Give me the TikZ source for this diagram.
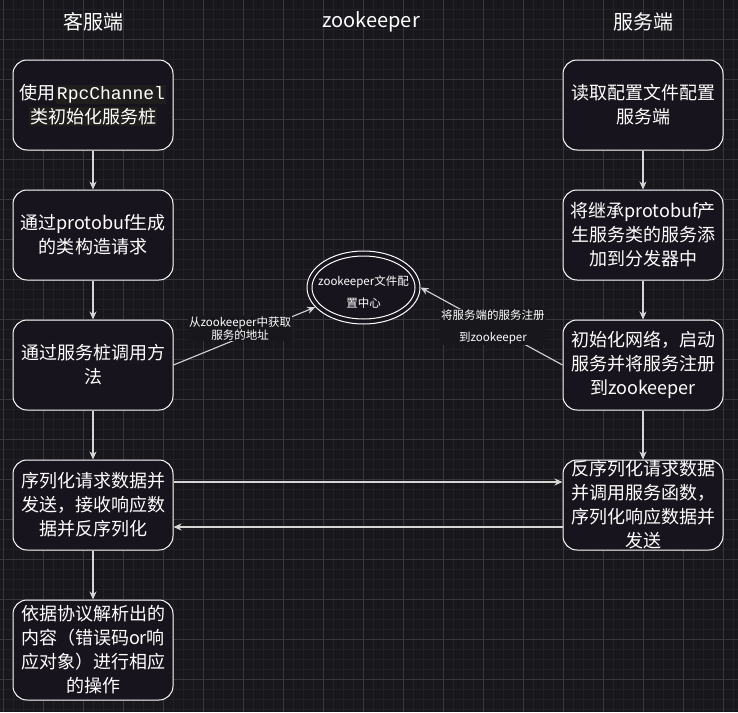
\documentclass[tikz,border=0pt]{standalone}
\usepackage{fontspec}
\setmainfont{Noto Sans CJK SC}
\newfontfamily\codefont{Liberation Mono}
\usetikzlibrary{arrows.meta,shapes.geometric}

\definecolor{canvas}{HTML}{18171C}
\definecolor{gridminor}{HTML}{222128}
\definecolor{gridmajor}{HTML}{38373D}
\definecolor{boxfill}{HTML}{18141D}
\definecolor{codebg}{HTML}{1F1E1C}
\definecolor{edge}{HTML}{D6D6D6}

\tikzset{
  stepbox/.style={draw=white, line width=1pt, fill=boxfill, rounded corners=14pt,
    minimum width=160pt, minimum height=90pt, inner sep=0pt, align=center,
    text=white, font=\fontsize{18}{24}\selectfont},
  flow/.style={draw=edge, line width=1.1pt, -{Stealth[length=8pt,width=7pt,inset=2.5pt]}},
  head/.style={text=white, font=\fontsize{20}{24}\selectfont},
  edgelabel/.style={fill=canvas, text=white, inner sep=1pt, align=center},
  ring/.style={ellipse, draw=white, line width=1pt, inner sep=0pt},
}

\newcommand{\codebit}[1]{{\fboxsep=1pt\colorbox{codebg}{#1}}}

\begin{document}
\begin{tikzpicture}[x=1pt,y=-1pt]
  \useasboundingbox (0,0) rectangle (738,712);

  % background and grid
  \fill[canvas] (0,0) rectangle (738,712);
  \foreach \gx in {3.3,13.3,...,738} \draw[gridminor, line width=0.7pt] (\gx,0) -- (\gx,712);
  \foreach \gy in {9.3,19.3,...,712} \draw[gridminor, line width=0.7pt] (0,\gy) -- (738,\gy);
  \foreach \gx in {3.3,43.3,...,738} \draw[gridmajor, line width=0.8pt] (\gx,0) -- (\gx,712);
  \foreach \gy in {39.3,79.3,...,712} \draw[gridmajor, line width=0.8pt] (0,\gy) -- (738,\gy);

  % column headers
  \node[head] (hc) at (93,22) {客服端};
  \node[head] (hz) at (371,22) {zookeeper};
  \node[head] (hs) at (643,22) {服务端};

  % client column
  \node[stepbox] (L1) at (93,105) {使用\codebit{\codefont RpcChannel}\\\codebit{类初始化服务桩}};
  \node[stepbox] (L2) at (93,235) {通过protobuf生成\\的类构造请求};
  \node[stepbox] (L3) at (93,365) {通过服务桩调用方\\法};
  \node[stepbox] (L4) at (93,505) {序列化请求数据并\\发送，接收响应数\\据并反序列化};
  \node[stepbox, minimum height=100pt] (L5) at (93,650) {依据协议解析出的\\内容（错误码or响\\应对象）进行相应\\的操作};

  % server column
  \node[stepbox] (R1) at (643,105) {读取配置文件配置\\服务端};
  \node[stepbox] (R2) at (643,235) {将继承protobuf产\\生服务类的服务添\\加到分发器中};
  \node[stepbox] (R3) at (643,365) {初始化网络，启动\\服务并将服务注册\\到zookeeper};
  \node[stepbox] (R4) at (643,505) {反序列化请求数据\\并调用服务函数，\\序列化响应数据并\\发送};

  % registry in the middle
  \node[ring, fill=boxfill, minimum width=113pt, minimum height=73pt] (zk) at (363.5,287.5) {};
  \node[ring, minimum width=103pt, minimum height=63pt] (zkin) at (zk.center) {};
  \node[text=white, align=center, font=\fontsize{11.5}{22}\selectfont] (zkt) at (363.5,292) {zookeeper文件配\\置中心};

  % client flow
  \draw[flow] (L1) -- (L2);
  \draw[flow] (L2) -- (L3);
  \draw[flow] (L3) -- (L4);
  \draw[flow] (L4) -- (L5);

  % server flow
  \draw[flow] (R1) -- (R2);
  \draw[flow] (R2) -- (R3);
  \draw[flow] (R3) -- (R4);

  % registry lookups
  \draw[flow] (L3.east) -- node[edgelabel, pos=0.47, yshift=9.5pt, font=\fontsize{11.5}{13}\selectfont] {从zookeeper中获取\\服务的地址} (zk);
  \draw[flow] (R3.west) -- node[edgelabel, pos=0.49, font=\fontsize{11.5}{22}\selectfont] {将服务端的服务注册\\到zookeeper} (zk.east);

  % request / response
  \draw[flow] ([yshift=23pt]L4.east) -- ([yshift=23pt]R4.west);
  \draw[flow] ([yshift=-22pt]R4.west) -- ([yshift=-22pt]L4.east);
\end{tikzpicture}
\end{document}
